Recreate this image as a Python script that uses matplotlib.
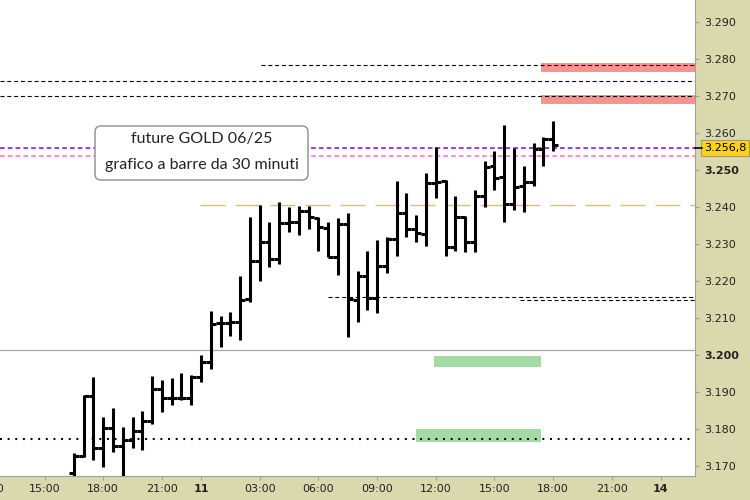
import numpy as np
import matplotlib
matplotlib.use("Agg")
import matplotlib.pyplot as plt
from matplotlib.patches import FancyBboxPatch, Rectangle
from matplotlib.ticker import FuncFormatter
import matplotlib.transforms as mtransforms

plt.rcParams['lines.scale_dashes'] = False

# ---------------- data (30-minute OHLC bars, GOLD future 06/25) ----------------
first_bar_index = 3  # bar slot of 16:30 (day 10); slot 0 = 15:00 day 10
opens = [3168.0, 3172.7, 3189.0, 3174.9, 3180.3, 3175.4, 3177.0, 3179.5, 3182.2, 3190.7,
         3188.3, 3188.3, 3188.3, 3194.1, 3198.0, 3208.6, 3208.6, 3209.0, 3215.2, 3225.5,
         3230.6, 3225.9, 3235.6, 3236.0, 3239.0, 3237.0, 3234.2, 3226.6, 3235.3, 3215.0,
         3221.3, 3215.3, 3224.1, 3231.3, 3238.3, 3234.0, 3232.7, 3246.4, 3247.0, 3229.3,
         3237.4, 3230.6, 3243.1, 3251.0, 3248.2, 3240.7, 3245.7, 3246.8, 3255.6, 3258.3]
highs = [3173.5, 3189.2, 3194.1, 3183.3, 3185.7, 3180.6, 3183.2, 3185.0, 3194.3, 3193.2,
         3193.7, 3195.1, 3194.6, 3200.0, 3211.9, 3210.5, 3211.6, 3221.4, 3237.4, 3240.5,
         3236.0, 3241.4, 3239.9, 3240.3, 3240.3, 3237.2, 3235.9, 3236.9, 3238.3, 3222.7,
         3228.1, 3231.1, 3231.8, 3247.0, 3243.9, 3237.8, 3249.3, 3256.3, 3247.3, 3243.0,
         3237.6, 3244.6, 3252.5, 3255.1, 3262.2, 3255.9, 3251.1, 3257.4, 3258.8, 3263.2]
lows = [3164.0, 3172.5, 3171.6, 3169.8, 3173.9, 3164.5, 3174.8, 3174.3, 3181.4, 3184.7,
        3186.5, 3187.8, 3186.5, 3192.8, 3196.1, 3202.2, 3205.2, 3204.1, 3214.4, 3220.1,
        3223.9, 3224.6, 3233.3, 3232.4, 3234.0, 3228.2, 3226.6, 3221.6, 3204.8, 3209.0,
        3212.2, 3211.4, 3222.2, 3226.8, 3232.0, 3230.6, 3229.5, 3242.5, 3226.8, 3228.2,
        3227.9, 3227.9, 3240.1, 3244.6, 3236.0, 3239.2, 3238.7, 3245.7, 3251.1, 3255.2]
closes = [3172.7, 3189.0, 3174.9, 3180.3, 3175.4, 3177.0, 3179.5, 3182.2, 3190.7, 3188.3,
          3188.3, 3188.3, 3194.1, 3198.0, 3208.4, 3208.6, 3208.8, 3214.9, 3225.5, 3230.6,
          3225.9, 3235.6, 3236.0, 3239.0, 3237.4, 3234.5, 3226.6, 3235.3, 3215.2, 3221.4,
          3215.3, 3224.1, 3231.3, 3238.3, 3234.0, 3232.9, 3246.4, 3246.8, 3229.3, 3237.4,
          3230.6, 3243.1, 3250.9, 3247.8, 3240.7, 3245.5, 3246.8, 3255.6, 3258.3, 3256.8]

x_tick_slots = [0, 6, 12, 16, 22, 28, 34, 40, 46, 52, 58, 63]
x_tick_labels = ["15:00", "18:00", "21:00", "11", "03:00", "06:00", "09:00",
                 "12:00", "15:00", "18:00", "21:00", "14"]
bold_x_labels = ["11", "14"]
y_ticks = list(range(3170, 3291, 10))
bold_y_ticks = [3200, 3250]

resistance_zones = [(3276.5, 3278.9), (3267.8, 3270.3)]
support_zones = [(3196.8, 3199.7), (3176.5, 3180.0)]
title_lines = ["future GOLD 06/25", "grafico a barre da 30 minuti"]

# ---------------- figure ----------------
W, H = 750, 500
fig = plt.figure(figsize=(7.5, 5), dpi=100, facecolor='#dad8ad')
ax = fig.add_axes([0, 24 / H, 695 / W, 476 / H])
ax.set_facecolor('white')
XMIN, XMAX = -4.55, 66.5
ax.set_xlim(XMIN, XMAX)
ax.set_ylim(3167.3, 3295.95)

# zones
for lo, hi in resistance_zones:
    ax.add_patch(Rectangle((50.8, lo), XMAX - 50.8 + 2, hi - lo, facecolor='#fa928e',
                           edgecolor='none', zorder=1))
ax.add_patch(Rectangle((39.8, support_zones[0][0]), 50.8 - 39.8,
                       support_zones[0][1] - support_zones[0][0],
                       facecolor='#a4dba4', edgecolor='none', zorder=1))
ax.add_patch(Rectangle((38.0, support_zones[1][0]), 50.8 - 38.0,
                       support_zones[1][1] - support_zones[1][0],
                       facecolor='#a4dba4', edgecolor='none', zorder=1))

# horizontal levels
dash_black = (0, (2.9, 2.0))
ax.hlines(3278.4, 22.1, XMAX, color='black', lw=0.8, linestyle=dash_black, zorder=2)
ax.axhline(3274.1, color='black', lw=0.8, linestyle=dash_black, zorder=2)
ax.axhline(3270.0, color='black', lw=0.8, linestyle=dash_black, zorder=2)
ax.axhline(3255.9, color='#9a00d0', lw=1.1, linestyle=(0, (3.4, 2.2)), zorder=2)
ax.axhline(3253.8, color='#ff70c0', lw=1.1, linestyle=(0, (3.4, 2.2)), zorder=2)
ax.hlines(3240.5, 15.9, XMAX, color='#f3b65a', lw=1.0, linestyle=(0, (18, 7.2)), zorder=2)
ax.hlines(3215.6, 29.0, XMAX, color='black', lw=0.8, linestyle=dash_black, zorder=2)
ax.hlines(3215.0, 48.6, XMAX, color='black', lw=0.8, linestyle=dash_black, zorder=2)
ax.axhline(3201.3, color='#a8a8a8', lw=0.9, zorder=2)
ax.axhline(3177.2, color='black', lw=1.5, linestyle=(0, (1.4, 4.1)), zorder=2)

# OHLC bars
bx = np.arange(first_bar_index, first_bar_index + len(opens))
lw_bar = 2.2
ax.vlines(bx, lows, highs, color='black', lw=lw_bar, capstyle='butt', zorder=5)
ax.hlines(opens, bx - 0.5, bx, color='black', lw=lw_bar, capstyle='butt', zorder=5)
ax.hlines(closes, bx, bx + 0.5, color='black', lw=lw_bar, capstyle='butt', zorder=5)

# axes styling
for s in ['top', 'left']:
    ax.spines[s].set_visible(False)
for s in ['right', 'bottom']:
    ax.spines[s].set_color('#a0a0a0')
    ax.spines[s].set_linewidth(0.8)

ax.yaxis.tick_right()
ax.set_yticks(y_ticks)
ax.yaxis.set_major_formatter(FuncFormatter(lambda v, p: f"{int(round(v)):,}".replace(",", ".")))
ax.tick_params(axis='y', direction='out', length=3, color='#a0a0a0', labelsize=8,
               labelcolor='#222222', pad=3.5)
for lab, v in zip(ax.get_yticklabels(), y_ticks):
    if v in bold_y_ticks:
        lab.set_fontweight('bold')

ax.set_xticks(x_tick_slots)
ax.set_xticklabels(x_tick_labels)
ax.tick_params(axis='x', direction='out', length=3, color='#a0a0a0', labelsize=8,
               labelcolor='#222222', pad=3)
for lab in ax.get_xticklabels():
    if lab.get_text() in bold_x_labels:
        lab.set_fontweight('bold')

# partially visible label at left edge (12:00 of day 10), cut by the figure edge as in the original
trans_xb = mtransforms.blended_transform_factory(ax.transData, ax.transAxes)
ax.text(-5.7, -12.5 / 476, "12:00", transform=trans_xb, ha='center', va='center',
        fontsize=8, color='#222222', clip_on=False)

# current price label
last_price = closes[-1]
price_txt = f"{last_price:,.1f}".replace(",", "X").replace(".", ",").replace("X", ".")
trans_yb = mtransforms.blended_transform_factory(ax.transAxes, ax.transData)
ax.text(1 + 9 / 695, 3255.9, price_txt, transform=trans_yb, ha='left', va='center',
        fontsize=8, color='black', clip_on=False, zorder=10,
        bbox=dict(boxstyle='square,pad=0.28', facecolor='#ffd21a', edgecolor='#a89a60', lw=0.8))
ax.plot([1.0, 1 + 7 / 695], [3255.9, 3255.9], transform=trans_yb, color='black', lw=1.2,
        clip_on=False, zorder=10)

# title box
box = FancyBboxPatch((95, H - 180), 213, 54, boxstyle='round,pad=0,rounding_size=6',
                     transform=mtransforms.IdentityTransform(), facecolor='white',
                     edgecolor='#8c8c8c', lw=1.0, zorder=20)
fig.add_artist(box)
fig.text(202 / W, 1 - 139 / H, title_lines[0], ha='center', va='center', family='Lato',
         fontsize=11.5, color='#222222', zorder=21)
fig.text(202 / W, 1 - 165 / H, title_lines[1], ha='center', va='center', family='Lato',
         fontsize=11.5, color='#222222', zorder=21)

fig.savefig("out.png", dpi=100, facecolor=fig.get_facecolor())
